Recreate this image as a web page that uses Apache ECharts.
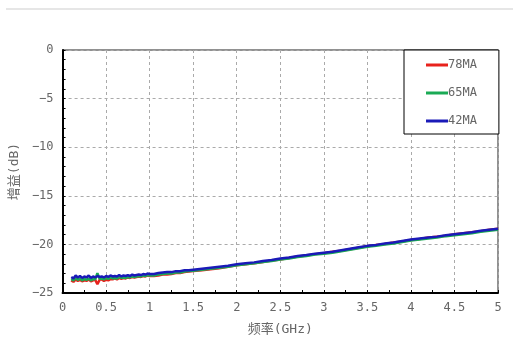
<!DOCTYPE html>
<html><head><meta charset="utf-8">
<script src="https://cdn.jsdelivr.net/npm/echarts@6/dist/echarts.min.js"></script>
<style>html,body{margin:0;padding:0;background:#fff}#c{width:513px;height:350px}</style>
</head><body><div id="c"></div>
<script>
const seriesNames = ['78MA', '65MA', '42MA'];
const seriesColors = ['#e8221c', '#1aaa55', '#1a1ab8'];
const freq = [0.100,0.125,0.150,0.175,0.200,0.225,0.250,0.275,0.300,0.325,0.350,0.375,0.400,0.425,0.450,0.475,0.500,0.525,0.550,0.575,0.600,0.625,0.650,0.675,0.700,0.725,0.750,0.775,0.800,0.825,0.850,0.875,0.900,0.925,0.950,0.975,1.000,
  1.05,1.10,1.15,1.20,1.25,1.30,1.35,1.40,1.45,1.50,
  1.6,1.7,1.8,1.9,2.0,2.1,2.2,2.3,2.4,2.5,2.6,2.7,2.8,2.9,3.0,3.1,3.2,3.3,3.4,3.5,3.6,3.7,3.8,3.9,4.0,4.1,4.2,4.3,4.4,4.5,4.6,4.7,4.8,4.9,5.0];
const gain78 = [-23.70,-23.85,-23.60,-23.75,-23.65,-23.80,-23.70,-23.75,-23.60,-23.80,-23.70,-23.65,-24.10,-23.65,-23.60,-23.75,-23.65,-23.70,-23.55,-23.60,-23.50,-23.60,-23.45,-23.55,-23.45,-23.50,-23.40,-23.45,-23.35,-23.40,-23.35,-23.30,-23.35,-23.25,-23.30,-23.20,-23.25,
  -23.25,-23.20,-23.10,-23.10,-23.05,-22.95,-22.95,-22.85,-22.80,-22.75,
  -22.65,-22.55,-22.45,-22.30,-22.15,-22.05,-21.95,-21.80,-21.65,-21.55,-21.40,-21.25,-21.15,-21.00,-20.90,-20.75,-20.65,-20.50,-20.35,-20.20,-20.05,-19.95,-19.80,-19.70,-19.55,-19.45,-19.30,-19.20,-19.10,-18.95,-18.85,-18.75,-18.65,-18.50,-18.40];
const gain65 = [-23.55,-23.70,-23.45,-23.65,-23.50,-23.70,-23.55,-23.65,-23.50,-23.70,-23.55,-23.60,-22.95,-23.55,-23.50,-23.60,-23.45,-23.55,-23.40,-23.50,-23.45,-23.50,-23.35,-23.45,-23.40,-23.45,-23.35,-23.40,-23.30,-23.35,-23.30,-23.25,-23.30,-23.20,-23.25,-23.15,-23.20,
  -23.20,-23.10,-23.05,-23.00,-23.00,-22.90,-22.90,-22.80,-22.75,-22.70,
  -22.60,-22.50,-22.40,-22.30,-22.15,-22.05,-21.95,-21.80,-21.70,-21.55,-21.45,-21.30,-21.20,-21.05,-20.95,-20.85,-20.70,-20.55,-20.40,-20.25,-20.15,-20.00,-19.90,-19.75,-19.60,-19.50,-19.40,-19.30,-19.15,-19.05,-18.95,-18.85,-18.70,-18.60,-18.50];
const gain42 = [-23.35,-23.50,-23.20,-23.40,-23.25,-23.45,-23.30,-23.40,-23.20,-23.45,-23.30,-23.40,-23.25,-23.35,-23.30,-23.40,-23.25,-23.35,-23.20,-23.30,-23.25,-23.30,-23.15,-23.30,-23.20,-23.25,-23.15,-23.25,-23.10,-23.20,-23.15,-23.10,-23.15,-23.05,-23.10,-23.00,-23.05,
  -23.05,-22.95,-22.90,-22.85,-22.85,-22.75,-22.75,-22.65,-22.65,-22.60,
  -22.50,-22.40,-22.30,-22.20,-22.05,-21.95,-21.85,-21.70,-21.60,-21.45,-21.35,-21.20,-21.10,-20.95,-20.85,-20.75,-20.60,-20.45,-20.30,-20.15,-20.05,-19.90,-19.80,-19.65,-19.50,-19.40,-19.30,-19.20,-19.05,-18.95,-18.85,-18.75,-18.60,-18.50,-18.40];
const gains = [gain78, gain65, gain42];
const xTicks = {min: 0, max: 5, interval: 0.5};
const yTicks = {min: -25, max: 0, interval: 5};
const xName = '频率(GHz)';
const yName = '增益(dB)';

const FONT = '"DejaVu Sans Mono", "Noto Sans CJK SC", monospace';
const chart = echarts.init(document.getElementById('c'), null, {renderer: 'canvas'});
chart.setOption({
  animation: false,
  backgroundColor: '#fff',
  graphic: [{type: 'line', shape: {x1: 6, y1: 9, x2: 513, y2: 9}, style: {stroke: '#e6e6e6', lineWidth: 2}}],
  grid: {left: 62, right: 15, top: 50, bottom: 57, show: true, borderColor: '#222', borderWidth: 1, containLabel: false},
  legend: {
    data: seriesNames, orient: 'vertical', left: 404, top: 50,
    padding: [9, 22, 7, 22], itemGap: 16, itemWidth: 22, itemHeight: 3, icon: 'rect',
    borderColor: '#000', borderWidth: 1, backgroundColor: '#fff',
    textStyle: {fontFamily: FONT, fontSize: 12, color: '#666', padding: [0, 0, 0, -5]}
  },
  xAxis: {
    type: 'value', min: xTicks.min, max: xTicks.max, interval: xTicks.interval,
    name: xName, nameLocation: 'middle', nameGap: 30,
    nameTextStyle: {fontFamily: FONT, fontSize: 13, color: '#666'},
    axisLine: {show: true, onZero: false, lineStyle: {color: '#000', width: 2}},
    axisTick: {show: true, inside: true, length: 3, lineStyle: {color: '#000'}},
    minorTick: {show: true, splitNumber: 2, length: 3, lineStyle: {color: '#000'}},
    axisLabel: {fontFamily: FONT, fontSize: 12, color: '#666', margin: 9, formatter: v => String(v)},
    splitLine: {show: true, lineStyle: {color: '#aaa', type: [3, 3]}}
  },
  yAxis: {
    type: 'value', min: yTicks.min, max: yTicks.max, interval: yTicks.interval,
    name: yName, nameLocation: 'middle', nameGap: 34, nameRotate: 90,
    nameTextStyle: {fontFamily: FONT, fontSize: 13, color: '#666'},
    axisLine: {show: true, onZero: false, lineStyle: {color: '#000', width: 2}},
    axisTick: {show: true, inside: true, length: 3, lineStyle: {color: '#000'}},
    minorTick: {show: true, splitNumber: 5, length: 3, lineStyle: {color: '#000'}},
    axisLabel: {fontFamily: FONT, fontSize: 12, color: '#666', margin: 9, formatter: v => String(v).replace('-', '\u2212')},
    splitLine: {show: true, lineStyle: {color: '#aaa', type: [3, 3]}}
  },
  series: seriesNames.map((n, i) => ({
    name: n, type: 'line', showSymbol: false, symbol: 'none',
    data: freq.map((f, k) => [f, gains[i][k]]),
    lineStyle: {color: seriesColors[i], width: 2.5}, itemStyle: {color: seriesColors[i]}
  }))
});
</script></body></html>
